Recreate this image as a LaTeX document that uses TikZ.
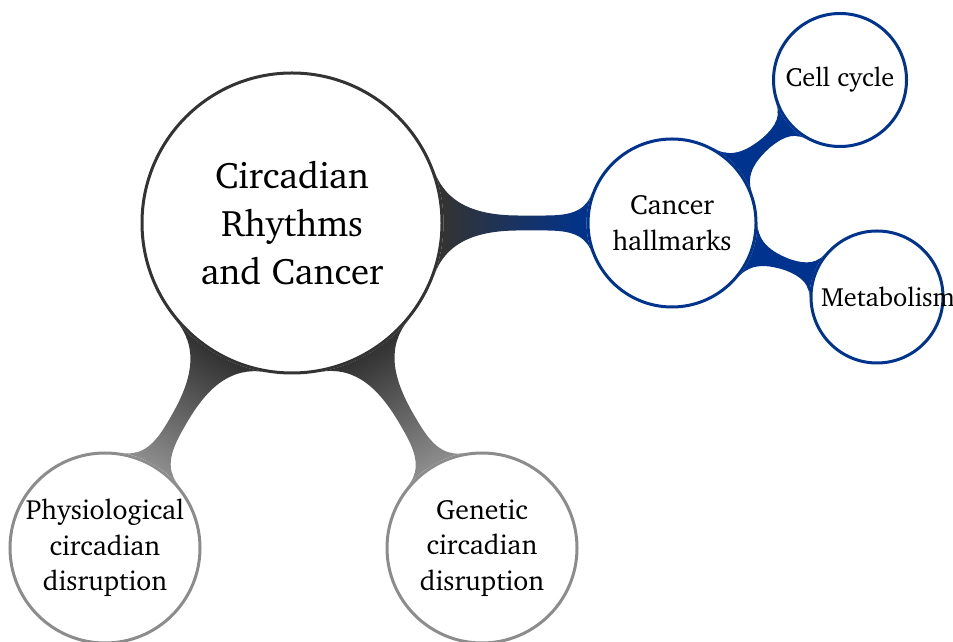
\documentclass[tikz,border=0pt]{standalone}
\usepackage[T1]{fontenc}
\usepackage{charter}
\usetikzlibrary{mindmap,backgrounds}
\definecolor{rootgray}{RGB}{51,51,51}
\definecolor{hallblue}{RGB}{0,51,141}
\definecolor{leafgray}{RGB}{140,140,140}

\begin{document}
\begin{tikzpicture}[
    idea/.style={circle,draw,fill=white,line width=0.06cm,align=center,inner sep=0pt},
    big/.style={font=\fontsize{21}{27.3}\selectfont},
    small/.style={font=\fontsize{15.8}{20.2}\selectfont},
    tiny/.style={font=\fontsize{15}{18}\selectfont}]
            \useasboundingbox (0,0) rectangle (19.06,12.82);
            \node [idea,big,draw=rootgray,minimum size=6cm] (Root) at (5.84,8.36) {Circadian\\Rhythms\\and Cancer};
            \node [idea,small,draw=hallblue,minimum size=3.36cm] (Hall) at (13.44,8.36) {Cancer\\hallmarks};
            \node [idea,tiny,draw=hallblue,minimum size=2.66cm] (Cycle) at (16.8,11.22) {Cell cycle};
            \node [idea,tiny,draw=hallblue,minimum size=2.64cm,text width=2.24cm] (Meta) at (17.54,6.88) {Metabolism};
            \node [idea,small,draw=leafgray,minimum size=3.8cm] (Phys) at (2.1,1.86) {Physiological\\circadian\\disruption};
            \node [idea,small,draw=leafgray,minimum size=3.8cm] (Gene) at (9.64,1.86) {Genetic\\circadian\\disruption};

            \begin{scope}[on background layer,line width=0.4cm]
            \path (Root) to [circle connection bar switch color=from (rootgray) to (hallblue)] (Hall);
            \path (Root) to [circle connection bar switch color=from (rootgray) to (leafgray)] (Phys);
            \path (Root) to [circle connection bar switch color=from (rootgray) to (leafgray)] (Gene);
            \path (Hall) to [circle connection bar switch color=from (hallblue) to (hallblue)] (Cycle);
            \path (Hall) to [circle connection bar switch color=from (hallblue) to (hallblue)] (Meta);
            \end{scope}
        \end{tikzpicture}
\end{document}
